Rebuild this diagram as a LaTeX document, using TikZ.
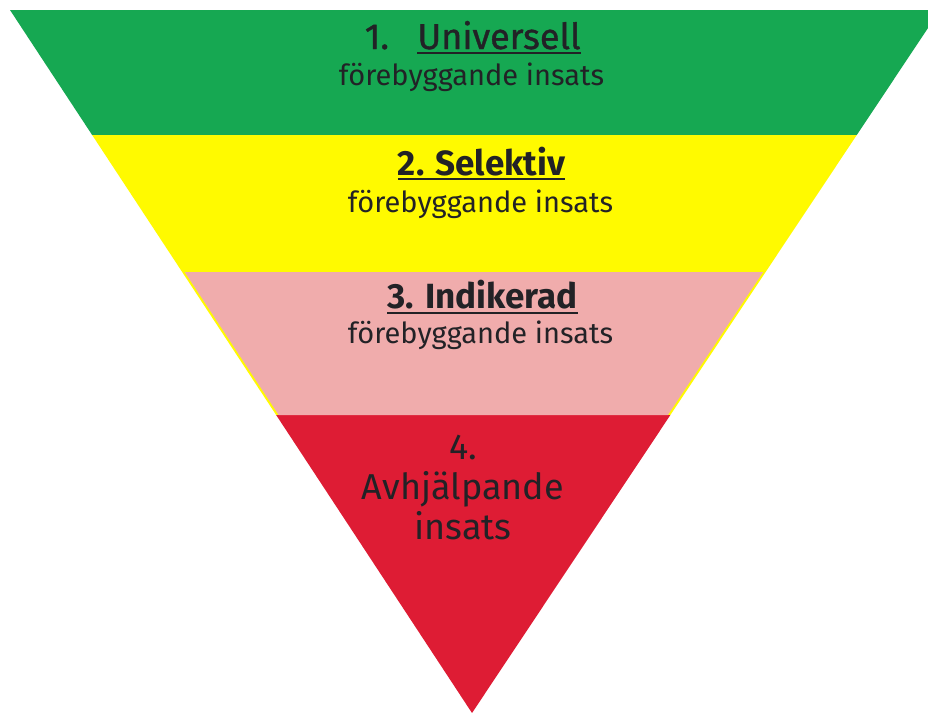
\documentclass[tikz,border=0pt]{standalone}
\usepackage{fontspec}
\setmainfont{Fira Sans}
\newfontfamily\medfont[FakeBold=1]{Fira Sans}
\usepackage{xcolor}
\usepackage{tikz}
\usetikzlibrary{positioning, calc}

\definecolor{bandgreen}{RGB}{22,168,82}
\definecolor{bandyellow}{RGB}{255,250,0}
\definecolor{bandpink}{RGB}{240,172,172}
\definecolor{bandred}{RGB}{222,28,52}
\definecolor{textgray}{RGB}{34,34,38}

\begin{document}
\begin{tikzpicture}[x=1pt, y=-1pt]
    \tikzstyle{headmed} = [inner sep=0pt, text=textgray, font=\fontsize{36}{40}\selectfont\medfont]
    \tikzstyle{head} = [inner sep=0pt, text=textgray, font=\fontsize{35}{40}\selectfont\bfseries]
    \tikzstyle{sub} = [inner sep=0pt, text=textgray, font=\fontsize{29}{34}\selectfont]
    \tikzstyle{last} = [inner sep=0pt, text=textgray, align=center, font=\fontsize{36}{40}\selectfont]
    \tikzstyle{uline} = [line width=2.5pt, draw=textgray]

    \fill[white] (0,0) rectangle (928,713);
    \useasboundingbox (0,0) rectangle (928,713);

    % the inverted triangle
    \coordinate (tl) at (10,10);
    \coordinate (tr) at (940,10);
    \coordinate (ap) at (472,713);

    \begin{scope}
        \clip (tl) -- (tr) -- (ap) -- cycle;
        \fill[bandgreen] (0,0) rectangle (940,135);
        \fill[bandyellow] (0,135) rectangle (940,415);
        \fill[bandred] (0,415) rectangle (940,713);
        \fill[bandpink] ($(tl)!0.3727!(ap)+(2.5,0)$) -- ($(tr)!0.3727!(ap)+(-2.5,0)$)
            -- ($(tr)!0.5761!(ap)+(-2.5,0)$) -- ($(tl)!0.5761!(ap)+(2.5,0)$) -- cycle;
    \end{scope}

    % level 1
    \node [headmed, anchor=base] (uni) at (499,49) {Universell};
    \node [headmed, base left=28pt of uni] (num1) {1.};
    \node [sub, anchor=base] (sub1) at (471.5,85) {förebyggande insats};
    \draw [uline] ([yshift=-4pt]uni.base west) -- ([yshift=-4pt]uni.base east);

    % level 2
    \node [head, anchor=base] (sel) at (481.5,175) {2. Selektiv};
    \node [sub, anchor=base] (sub2) at (480.5,212) {förebyggande insats};
    \draw [uline] ([yshift=-4pt]sel.base west) -- ([yshift=-4pt]sel.base east);

    % level 3
    \node [head, anchor=base] (ind) at (482.5,308) {3. Indikerad};
    \node [sub, anchor=base] (sub3) at (480.5,343) {förebyggande insats};
    \draw [uline] ([yshift=-5pt]ind.base west) -- ([yshift=-5pt]ind.base east);

    % level 4
    \node [last, anchor=north] (avh) at (463,435) {4.\\Avhjälpande\\insats};
\end{tikzpicture}
\end{document}
